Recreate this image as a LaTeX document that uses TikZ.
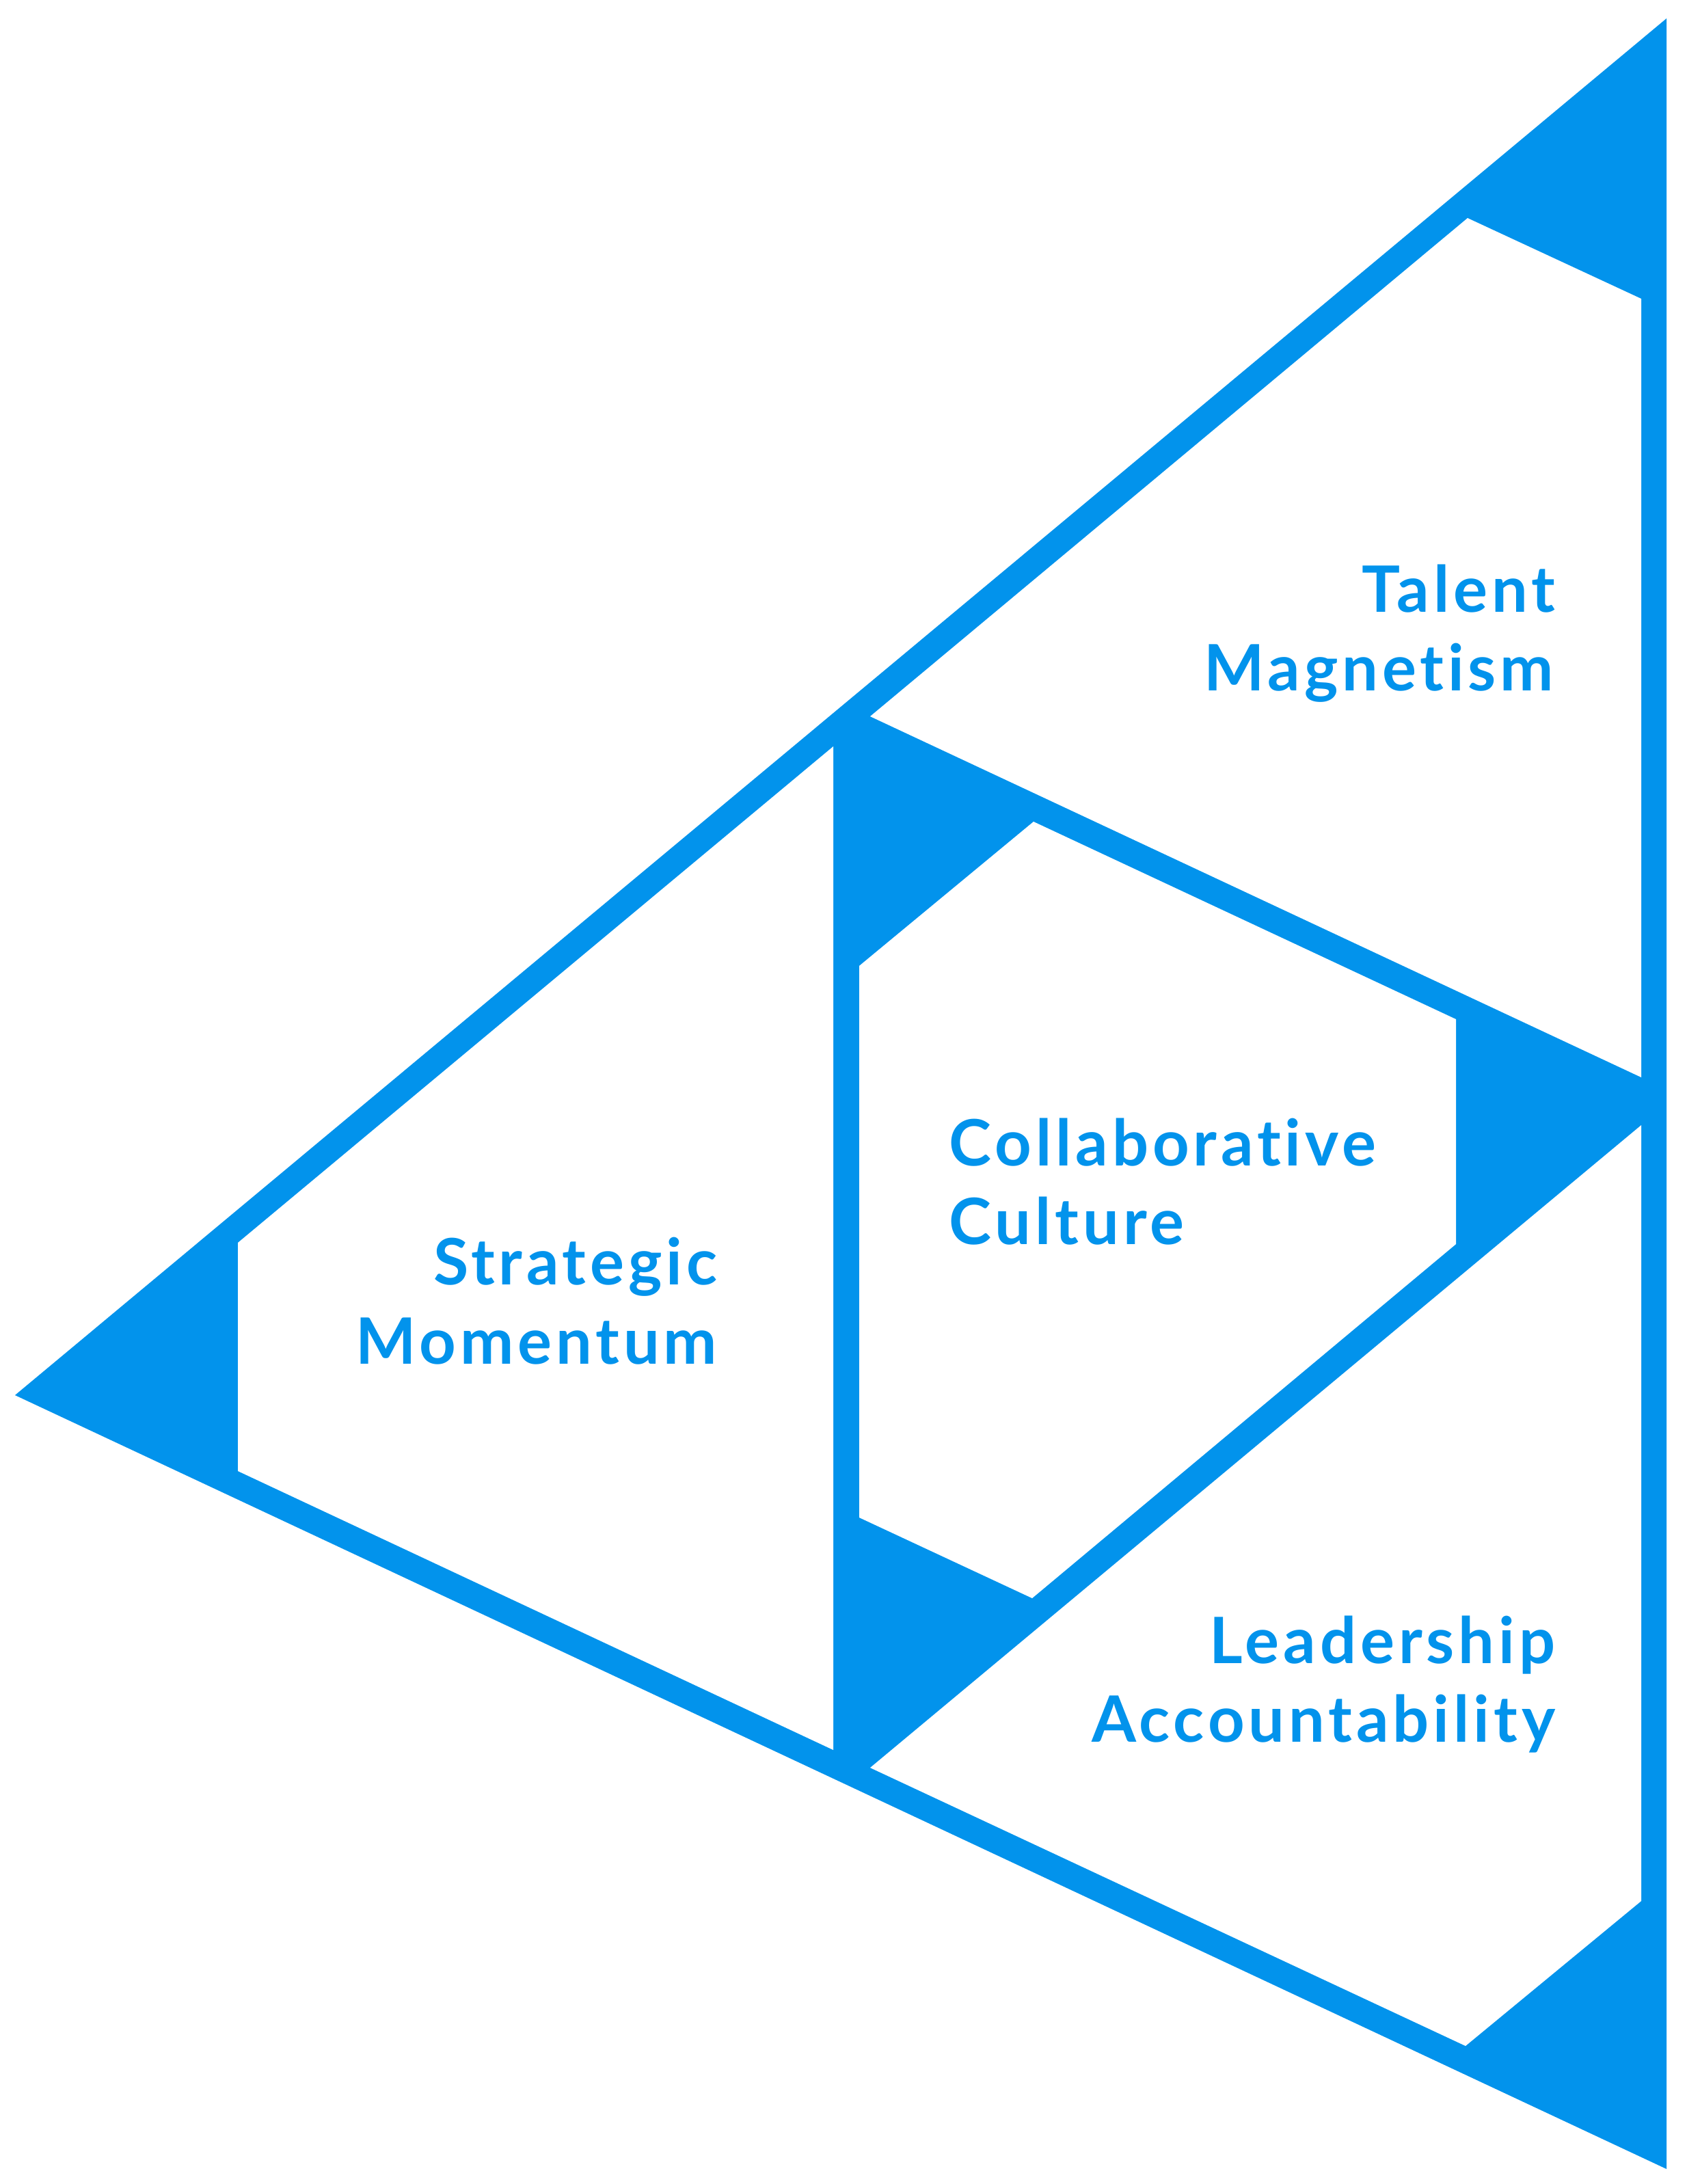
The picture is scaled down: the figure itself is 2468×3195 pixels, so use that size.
\documentclass[tikz,border=0pt]{standalone}
\usepackage{fontspec}
\setmainfont{Lato}[Ligatures={NoCommon}, LetterSpace=6.3]
\definecolor{brandblue}{RGB}{2,147,236}
\begin{document}
\begin{tikzpicture}[x=0.25pt,y=-0.25pt,
  lbl/.style={inner sep=0pt, text=brandblue, font=\fontsize{23.4}{28}\selectfont\bfseries},
  bluefill/.style={fill=brandblue},
  whitefill/.style={fill=white}]
\fill[white] (0,0) rectangle (2468,3195);
\useasboundingbox (0,0) rectangle (2468,3195);
% outer triangle
\fill[bluefill] (2438,27) -- (22,2041) -- (2438,3173) -- cycle;
% white inner regions
\fill[whitefill] (2147,319) -- (2401,437) -- (2401,1576) -- (1273,1048) -- cycle;
\fill[whitefill] (348,1818) -- (1219,1092) -- (1219,2560) -- (348,2152) -- cycle;
\fill[whitefill] (1257,1413) -- (1512,1202) -- (2130,1491) -- (2130,1820) -- (1510,2338) -- (1257,2220) -- cycle;
\fill[whitefill] (2401,1646) -- (2401,2781) -- (2144,2993) -- (1273,2586) -- cycle;
% labels
\node[lbl, anchor=base east] (talentA) at (2276,895) {Talent};
\node[lbl, anchor=base east] (talentB) at (2274,1010) {Magnetism};
\node[lbl, anchor=base west] (collabA) at (1388,1705) {Collaborative};
\node[lbl, anchor=base west] (collabB) at (1388,1820) {Culture};
\node[lbl, anchor=base east] (stratA) at (1050,1879) {Strategic};
\node[lbl, anchor=base east] (stratB) at (1050,1995) {Momentum};
\node[lbl, anchor=base east] (leadA) at (2276,2433) {Leadership};
\node[lbl, anchor=base east] (leadB) at (2276,2548) {Accountability};
\end{tikzpicture}
\end{document}
